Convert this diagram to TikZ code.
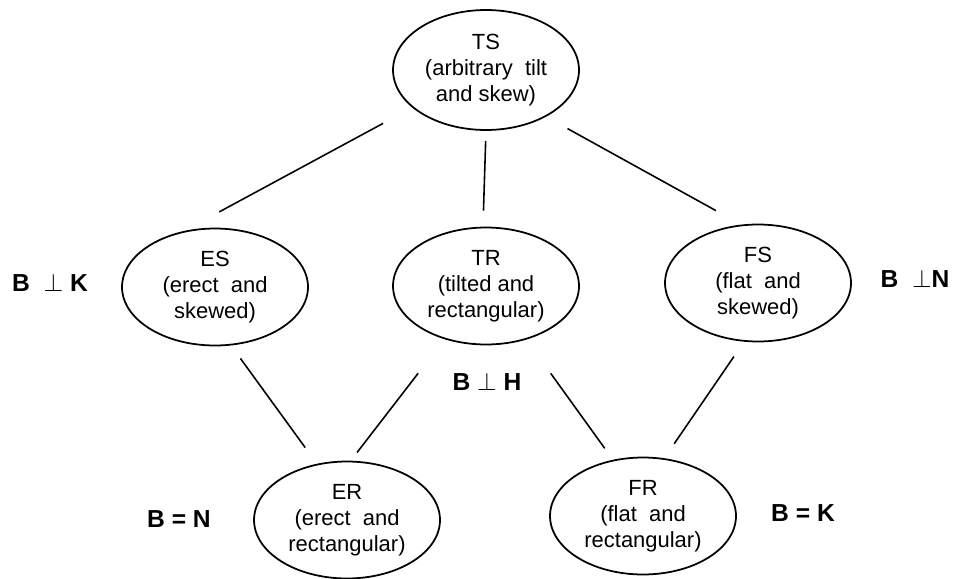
\documentclass[tikz,border=0pt]{standalone}
\usepackage{fontspec}
\setmainfont{Liberation Sans}
\usetikzlibrary{shapes,positioning}

\begin{document}
\begin{tikzpicture}[
    x=0.02cm, y=-0.02cm,
    class/.style={ellipse, draw, line width=1pt, inner sep=0pt, outer sep=0pt, minimum width=3.72cm, minimum height=2.34cm, align=center, font=\fontsize{12.5}{14.8}\selectfont},
    cond/.style={font=\fontsize{14}{16}\selectfont\bfseries},
    link/.style={line width=0.9pt}
]
    \useasboundingbox (0,0) rectangle (953,578);

    % Top class
    \node[class, minimum height=2.4cm] (ts) at (486,70) {TS\\(arbitrary~ tilt\\and skew)};

    % Middle classes
    \node[class] (es) at (215,287) {ES\\(erect~ and\\skewed)};
    \node[class] (tr) at (486,286) {TR\\(tilted and\\rectangular)};
    \node[class] (fs) at (758,283) {FS\\(flat~ and\\skewed)};

    % Bottom classes
    \node[class] (er) at (347,520) {ER\\(erect~ and\\rectangular)};
    \node[class] (fr) at (643,516) {FR\\(flat~ and\\rectangular)};

    % Conditions
    \node[cond] (perp_k) at (50,283) {B~~$\perp$ K};
    \node[cond] (perp_h) at (487,382) {B $\perp$ H};
    \node[cond] (perp_n) at (915,279) {B~~$\perp$N};
    \node[cond] (eq_n) at (179,519) {B = N};
    \node[cond] (eq_k) at (803,513) {B = K};

    % Links TS - middle
    \draw[link, shorten <=0.68cm, shorten >=0.87cm] (ts.207) -- (es.122);
    \draw[link, shorten <=0.22cm, shorten >=0.34cm] (ts.270) -- (tr.93);
    \draw[link, shorten <=0.51cm, shorten >=0.61cm] (ts.322) -- (fs.105);

    % Links middle - bottom
    \draw[link, shorten <=0.34cm, shorten >=0.42cm] (es.285) -- (er.118);
    \draw[link, shorten <=0.88cm, shorten >=0.23cm] (tr.232) -- (er.87);
    \draw[link, shorten <=0.85cm, shorten >=0.30cm] (tr.307) -- (fr.118);
    \draw[link, shorten <=0.38cm, shorten >=0.37cm] (fs.257) -- (fr.70);

\end{tikzpicture}
\end{document}
